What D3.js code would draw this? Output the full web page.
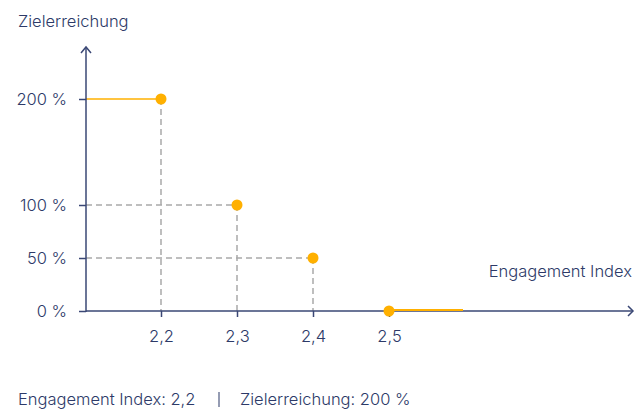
<!DOCTYPE html>
<html lang="de">
<head>
  <meta charset="UTF-8">
  <style>
    body {
      margin: 0;
      padding: 0;
      background: #ffffff;
      font-family: Inter, "Noto Sans", sans-serif;
    }
    #chart {
      display: block;
    }
    text {
      fill: #2d3a68;
      font-size: 16.5px;
      font-weight: 300;
    }
  </style>
</head>
<body>
  <svg id="chart" width="635" height="411"></svg>

  <script src="https://d3js.org/d3.v7.min.js"></script>
  <script>
    // Daten
    let engagementIndex = [2.2, 2.3, 2.4, 2.5];
    let zielerreichung = [200, 100, 50, 0];
    let xTicks = [2.2, 2.3, 2.4, 2.5];
    let yTicks = [0, 50, 100, 200];
    let xStart = 2.1, xEnd = 2.6;  // Begrenzung der orangen Linien
    let selectedIndex = 0;

    let width = 635, height = 411;
    let axisColor = "#3a4775";
    let orange = "#ffb000";
    let gridColor = "#a9a9a9";

    let svg = d3.select("#chart");

    let x = d3.scaleLinear().domain([2.1, 2.5]).range([85, 389]);
    let y = d3.scaleLinear().domain([0, 200]).range([311, 99]);

    let fmt = d => d.toFixed(1).replace(".", ",");

    let points = engagementIndex.map((d, i) => ({ x: d, y: zielerreichung[i] }));

    // gestrichelte Hilfslinien
    let guides = svg.append("g");
    points.forEach((p, i) => {
      if (p.y > 0) {
        guides.append("line")
          .attr("x1", x(p.x)).attr("x2", x(p.x))
          .attr("y1", y(p.y)).attr("y2", y(0))
          .attr("stroke", gridColor)
          .attr("stroke-width", 1.5)
          .attr("stroke-dasharray", "6,4");
      }
      if (i > 0 && p.y > 0) {
        guides.append("line")
          .attr("x1", x(xStart) + 1).attr("x2", x(p.x))
          .attr("y1", y(p.y)).attr("y2", y(p.y))
          .attr("stroke", gridColor)
          .attr("stroke-width", 1.5)
          .attr("stroke-dasharray", "6,4");
      }
    });

    // orange Linie oben
    let first = points[0], last = points[points.length - 1];
    svg.append("line")
      .attr("x1", x(xStart) + 1).attr("x2", x(first.x))
      .attr("y1", y(first.y)).attr("y2", y(first.y))
      .attr("stroke", orange).attr("stroke-width", 1.5);

    // y-Achse
    let yAxis = d3.axisLeft(y)
      .tickValues(yTicks)
      .tickFormat(d => d + " %")
      .tickSize(7)
      .tickPadding(12);
    let gy = svg.append("g")
      .attr("transform", "translate(86,0)")
      .call(yAxis);
    gy.select(".domain").remove();
    gy.selectAll(".tick line").attr("stroke", axisColor).attr("stroke-width", 1.5);
    gy.attr("font-family", null).attr("font-size", null);

    // x-Achse
    let xAxis = d3.axisBottom(x)
      .tickValues(xTicks)
      .tickFormat(fmt)
      .tickSize(6)
      .tickPadding(13);
    let gx = svg.append("g")
      .attr("transform", "translate(0,311)")
      .call(xAxis);
    gx.select(".domain").remove();
    gx.selectAll(".tick line").attr("stroke", axisColor).attr("stroke-width", 1.5);
    gx.attr("font-family", null).attr("font-size", null);

    // Achsenlinien mit Pfeilen
    svg.append("line")
      .attr("x1", 86).attr("x2", 86)
      .attr("y1", 47).attr("y2", 312)
      .attr("stroke", axisColor).attr("stroke-width", 1.5);
    svg.append("path")
      .attr("d", "M81,53 L86,47 L91,53")
      .attr("fill", "none").attr("stroke", axisColor).attr("stroke-width", 1.5);
    svg.append("line")
      .attr("x1", 86).attr("x2", 633)
      .attr("y1", 311).attr("y2", 311)
      .attr("stroke", axisColor).attr("stroke-width", 1.5);
    svg.append("path")
      .attr("d", "M628,306 L633,311 L628,316")
      .attr("fill", "none").attr("stroke", axisColor).attr("stroke-width", 1.5);

    // orange Linie unten
    svg.append("line")
      .attr("x1", x(last.x)).attr("x2", x(xEnd) - 2)
      .attr("y1", y(last.y) - 1).attr("y2", y(last.y) - 1)
      .attr("stroke", orange).attr("stroke-width", 2);

    // Punkte
    svg.append("g")
      .selectAll("circle")
      .data(points)
      .enter()
      .append("circle")
      .attr("cx", d => x(d.x))
      .attr("cy", d => y(d.y))
      .attr("r", 5.5)
      .attr("fill", orange);

    // Beschriftungen
    svg.append("text")
      .attr("x", 18).attr("y", 27)
      .text("Zielerreichung");
    svg.append("text")
      .attr("x", 632).attr("y", 277)
      .attr("text-anchor", "end")
      .text("Engagement Index");

    let sel = points[selectedIndex];
    svg.append("text")
      .attr("x", 18).attr("y", 405)
      .text("Engagement Index: " + fmt(sel.x));
    svg.append("rect")
      .attr("x", 218.5).attr("y", 392)
      .attr("width", 1).attr("height", 15)
      .attr("fill", "#2d3a68");
    svg.append("text")
      .attr("x", 240).attr("y", 405)
      .text("Zielerreichung: " + sel.y + " %");
  </script>
</body>
</html>
